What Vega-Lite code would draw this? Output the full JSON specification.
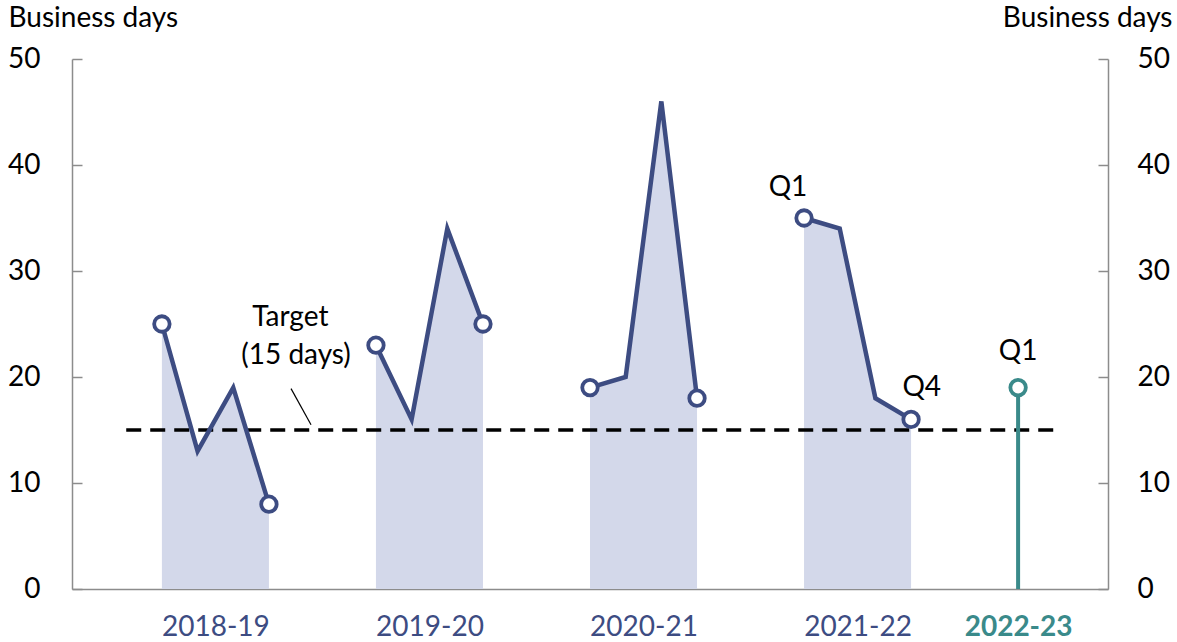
{
  "$schema": "https://vega.github.io/schema/vega-lite/v6.json",
  "width": 1036,
  "height": 530,
  "autosize": {"type": "none"},
  "padding": {"left": 72, "top": 59, "right": 69, "bottom": 53},
  "background": "white",
  "config": {
    "view": {"stroke": null},
    "font": "Lato",
    "axis": {"labelFont": "Lato", "titleFont": "Lato"}
  },
  "datasets": {
    "series": [
      {"year": "2018-19", "q": 1, "t": 0, "days": 25},
      {"year": "2018-19", "q": 2, "t": 1, "days": 13},
      {"year": "2018-19", "q": 3, "t": 2, "days": 19},
      {"year": "2018-19", "q": 4, "t": 3, "days": 8},
      {"year": "2019-20", "q": 1, "t": 6, "days": 23},
      {"year": "2019-20", "q": 2, "t": 7, "days": 16},
      {"year": "2019-20", "q": 3, "t": 8, "days": 34},
      {"year": "2019-20", "q": 4, "t": 9, "days": 25},
      {"year": "2020-21", "q": 1, "t": 12, "days": 19},
      {"year": "2020-21", "q": 2, "t": 13, "days": 20},
      {"year": "2020-21", "q": 3, "t": 14, "days": 46},
      {"year": "2020-21", "q": 4, "t": 15, "days": 18},
      {"year": "2021-22", "q": 1, "t": 18, "days": 35},
      {"year": "2021-22", "q": 2, "t": 19, "days": 34},
      {"year": "2021-22", "q": 3, "t": 20, "days": 18},
      {"year": "2021-22", "q": 4, "t": 21, "days": 16}
    ],
    "latest": [
      {"year": "2022-23", "q": 1, "t": 24, "days": 19, "base": 0}
    ],
    "target": [
      {"t": -1, "days": 15},
      {"t": 25, "days": 15}
    ],
    "leader": [
      {"t": 3.62, "days": 18.9, "t2": 4.18, "days2": 15.5}
    ],
    "labels": [
      {"t": 17.55, "days": 37.8, "text": "Q1"},
      {"t": 21.3, "days": 19.0, "text": "Q4"},
      {"t": 24, "days": 22.4, "text": "Q1"},
      {"t": 3.6, "days": 25.6, "text": "Target"},
      {"t": 3.76, "days": 22.0, "text": "(15 days)"}
    ]
  },
  "layer": [
    {
      "data": {"name": "series"},
      "mark": {"type": "area", "color": "#d3d8ea", "opacity": 1},
      "encoding": {
        "x": {
          "field": "t", "type": "quantitative",
          "scale": {"domain": [-2.52, 26.52], "nice": false, "zero": false},
          "axis": {
            "values": [1.5, 7.5, 13.5, 19.5, 24],
            "labelExpr": "datum.value == 1.5 ? '2018-19' : datum.value == 7.5 ? '2019-20' : datum.value == 13.5 ? '2020-21' : datum.value == 19.5 ? '2021-22' : '2022-23'",
            "title": null,
            "ticks": false,
            "grid": false,
            "domainColor": "#8c8c8c",
            "domainWidth": 1.5,
            "labelFontSize": 28,
            "labelPadding": 24,
            "labelColor": {"condition": {"test": "datum.value == 24", "value": "#3a8a8a"}, "value": "#3d4c82"},
            "labelFontWeight": {"condition": {"test": "datum.value == 24", "value": "bold"}, "value": "normal"}
          }
        },
        "y": {
          "field": "days", "type": "quantitative",
          "stack": null,
          "scale": {"domain": [0, 50], "nice": false},
          "axis": {
            "orient": "left",
            "values": [0, 10, 20, 30, 40, 50],
            "grid": false,
            "tickSize": -10,
            "tickColor": "#8c8c8c",
            "tickWidth": 1.5,
            "domainColor": "#8c8c8c",
            "domainWidth": 1.5,
            "labelFontSize": 28,
            "labelColor": "black",
            "labelPadding": 42,
            "title": "Business days",
            "titleFontSize": 28,
            "titleFontWeight": "normal",
            "titleColor": "black",
            "titleAngle": 0,
            "titleAlign": "left",
            "titleBaseline": "middle",
            "titleX": -64,
            "titleY": -41
          }
        },
        "detail": {"field": "year", "type": "nominal"}
      }
    },
    {
      "data": {"name": "target"},
      "mark": {"type": "line", "color": "black", "strokeWidth": 3.5, "strokeDash": [15, 9]},
      "encoding": {
        "x": {"field": "t", "type": "quantitative"},
        "y": {
          "field": "days", "type": "quantitative",
          "axis": {
            "orient": "right",
            "values": [0, 10, 20, 30, 40, 50],
            "grid": false,
            "tickSize": -10,
            "tickColor": "#8c8c8c",
            "tickWidth": 1.5,
            "domainColor": "#8c8c8c",
            "domainWidth": 1.5,
            "labelFontSize": 28,
            "labelColor": "black",
            "labelPadding": 39,
            "title": "Business days",
            "titleFontSize": 28,
            "titleFontWeight": "normal",
            "titleColor": "black",
            "titleAngle": 0,
            "titleAlign": "right",
            "titleBaseline": "middle",
            "titleX": 64,
            "titleY": -41
          }
        }
      }
    },
    {
      "data": {"name": "series"},
      "mark": {"type": "line", "color": "#3d4c82", "strokeWidth": 4.5},
      "encoding": {
        "x": {"field": "t", "type": "quantitative"},
        "y": {"field": "days", "type": "quantitative", "axis": null},
        "detail": {"field": "year", "type": "nominal"}
      }
    },
    {
      "data": {"name": "series"},
      "transform": [{"filter": "datum.q == 1 || datum.q == 4"}],
      "mark": {"type": "point", "shape": "circle", "filled": false, "fill": "white", "fillOpacity": 1, "stroke": "#3d4c82", "strokeWidth": 3.8, "size": 240, "opacity": 1},
      "encoding": {
        "x": {"field": "t", "type": "quantitative"},
        "y": {"field": "days", "type": "quantitative", "axis": null}
      }
    },
    {
      "data": {"name": "latest"},
      "mark": {"type": "rule", "color": "#3a8a8a", "strokeWidth": 4},
      "encoding": {
        "x": {"field": "t", "type": "quantitative"},
        "y": {"field": "base", "type": "quantitative", "axis": null},
        "y2": {"field": "days"}
      }
    },
    {
      "data": {"name": "latest"},
      "mark": {"type": "point", "shape": "circle", "filled": false, "fill": "white", "fillOpacity": 1, "stroke": "#3a8a8a", "strokeWidth": 3.8, "size": 240, "opacity": 1},
      "encoding": {
        "x": {"field": "t", "type": "quantitative"},
        "y": {"field": "days", "type": "quantitative", "axis": null}
      }
    },
    {
      "data": {"name": "leader"},
      "mark": {"type": "rule", "color": "black", "strokeWidth": 1.2},
      "encoding": {
        "x": {"field": "t", "type": "quantitative"},
        "y": {"field": "days", "type": "quantitative", "axis": null},
        "x2": {"field": "t2"},
        "y2": {"field": "days2"}
      }
    },
    {
      "data": {"name": "labels"},
      "mark": {"type": "text", "fontSize": 28, "color": "black", "align": "center", "baseline": "middle", "font": "Lato"},
      "encoding": {
        "x": {"field": "t", "type": "quantitative"},
        "y": {"field": "days", "type": "quantitative", "axis": null},
        "text": {"field": "text", "type": "nominal"}
      }
    }
  ],
  "resolve": {"axis": {"y": "independent"}}
}
